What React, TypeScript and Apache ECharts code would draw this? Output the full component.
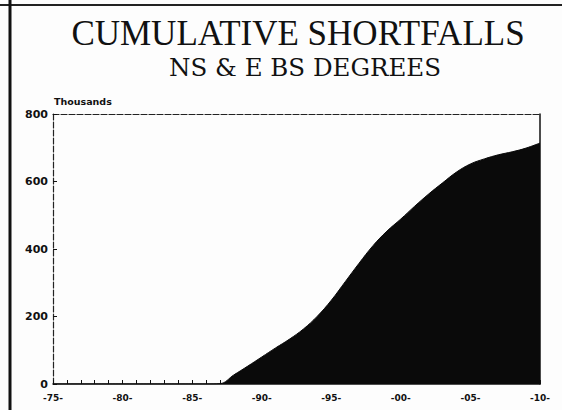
import React, { useEffect, useRef } from "react";
import * as echarts from "echarts";

const years = [
  1975, 1976, 1977, 1978, 1979, 1980, 1981, 1982, 1983, 1984, 1985, 1986,
  1987, 1988, 1989, 1990, 1991, 1992, 1993, 1994, 1995, 1996, 1997, 1998,
  1999, 2000, 2001, 2002, 2003, 2004, 2005, 2006, 2007, 2008, 2009, 2010,
];
const shortfall = [
  0, 0, 0, 0, 0, 0, 0, 0, 0, 0, 0, 0,
  1, 27, 53, 80, 107, 133, 163, 201, 248, 303, 358, 410,
  453, 489, 527, 563, 596, 628, 652, 667, 679, 688, 699, 714,
];
const yTicks = [0, 200, 400, 600, 800];

const title = "CUMULATIVE SHORTFALLS";
const subtitle = "NS & E BS DEGREES";
const unitLabel = "Thousands";

export default function App() {
  const ref = useRef<HTMLDivElement>(null);
  useEffect(() => {
    if (!ref.current) return;
    const chart = echarts.init(ref.current, null, { renderer: "svg" });
    const data = years.map((y, i) => [y, shortfall[i]]);
    chart.setOption({
      animation: false,
      backgroundColor: "#fdfdfd",
      title: [
        {
          text: title,
          left: 293,
          top: 11,
          textAlign: "center",
          textStyle: {
            fontFamily: "Liberation Serif",
            fontSize: 35,
            fontWeight: "normal",
            color: "#111",
          },
        },
        {
          text: subtitle,
          left: 300,
          top: 50,
          textAlign: "center",
          textStyle: {
            fontFamily: "DejaVu Serif",
            fontSize: 24.5,
            fontWeight: "normal",
            color: "#111",
          },
        },
      ],
      grid: { left: 53, right: 22, top: 114, bottom: 26 },
      xAxis: [
        {
          type: "value",
          min: 1975,
          max: 2010,
          interval: 5,
          axisLine: { show: true, lineStyle: { color: "#111", width: 1.5 } },
          axisTick: { show: true, inside: true, length: 4, lineStyle: { color: "#111" } },
          minorTick: { show: true, splitNumber: 5, length: 4, lineStyle: { color: "#111" } },
          splitLine: { show: false },
          axisLabel: {
            margin: 9,
            fontFamily: "DejaVu Sans",
            fontWeight: "bold",
            fontSize: 9,
            color: "#111",
            formatter: (v: number) => "-" + String(v % 100).padStart(2, "0") + "-",
          },
        },
        {
          type: "value",
          position: "top",
          min: 1975,
          max: 2010,
          axisLine: {
            show: true,
            onZero: false,
            lineStyle: { color: "#222", width: 1.2, type: [6, 2] },
          },
          axisTick: { show: false },
          axisLabel: { show: false },
          splitLine: { show: false },
        },
      ],
      yAxis: [
        {
          type: "value",
          min: yTicks[0],
          max: yTicks[yTicks.length - 1],
          interval: 200,
          name: unitLabel,
          nameLocation: "end",
          nameGap: 8,
          nameTextStyle: {
            align: "left",
            fontFamily: "DejaVu Sans",
            fontWeight: "bold",
            fontSize: 9.5,
            color: "#111",
            padding: [0, 0, 0, 1],
          },
          axisLine: {
            show: true,
            onZero: false,
            lineStyle: { color: "#222", width: 1.2, type: [6, 2] },
          },
          axisTick: { show: true, inside: true, length: 4, lineStyle: { color: "#111" } },
          splitLine: { show: false },
          axisLabel: {
            margin: 5,
            fontFamily: "DejaVu Sans",
            fontWeight: "bold",
            fontSize: 11,
            color: "#111",
          },
        },
        {
          type: "value",
          position: "right",
          min: 0,
          max: 800,
          axisLine: { show: true, onZero: false, lineStyle: { color: "#111", width: 1.5 } },
          axisTick: { show: false },
          axisLabel: { show: false },
          splitLine: { show: false },
        },
      ],
      series: [
        {
          type: "line",
          data,
          smooth: 0.4,
          showSymbol: false,
          lineStyle: { color: "#0a0a0a", width: 1 },
          areaStyle: { color: "#0a0a0a", opacity: 1 },
        },
      ],
      graphic: [
        {
          type: "line",
          shape: { x1: 0, y1: 5, x2: 562, y2: 5 },
          style: { stroke: "#222", lineWidth: 2 },
        },
        {
          type: "line",
          shape: { x1: 10, y1: 0, x2: 10, y2: 410 },
          style: { stroke: "#111", lineWidth: 3 },
        },
      ],
    });
    return () => chart.dispose();
  }, []);
  return (
    <div
      ref={ref}
      style={{ position: "fixed", left: 0, top: 0, width: 562, height: 410 }}
    />
  );
}
